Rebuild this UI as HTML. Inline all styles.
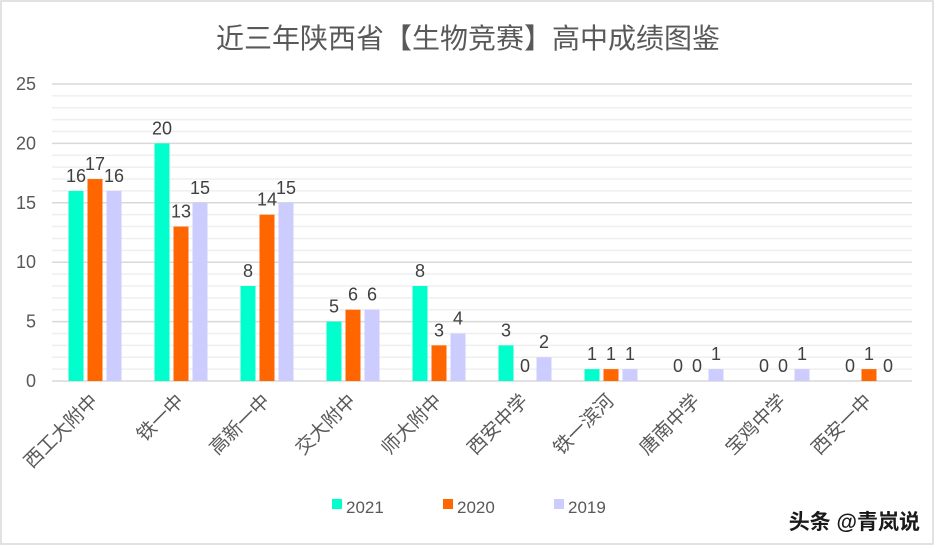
<!DOCTYPE html>
<html><head><meta charset="utf-8"><style>
body{margin:0;background:#fff;}
svg{display:block;font-family:"Liberation Sans","Noto Sans CJK SC",sans-serif;}
</style></head><body>
<svg width="937" height="548">
<rect x="1" y="1" width="932" height="543" fill="#fff" stroke="#d9d9d9" stroke-width="1.5"/>
<text x="468" y="48" text-anchor="middle" font-size="28" fill="#595959">近三年陕西省【生物竞赛】高中成绩图鉴</text>
<g id="grid"></g><g id="yaxis"></g><g id="bars"></g><g id="xlabels"></g>
<g>
<rect x="332" y="499" width="10" height="10" fill="#00ffcc"/>
<text x="346" y="513" font-size="17" fill="#595959">2021</text>
<rect x="443" y="499" width="10" height="10" fill="#ff6600"/>
<text x="457" y="513" font-size="17" fill="#595959">2020</text>
<rect x="554" y="499" width="10" height="10" fill="#ccccff"/>
<text x="568" y="513" font-size="17" fill="#595959">2019</text>
</g>
<text x="920" y="529" text-anchor="end" font-size="21" font-weight="bold" fill="#1a1a1a">头条 @青岚说</text>
</svg>
<script>
const categories=["西工大附中","铁一中","高新一中","交大附中","师大附中","西安中学","铁一滨河","唐南中学","宝鸡中学","西安一中"];
const s2021=[16,20,8,5,8,3,1,0,0,0];
const s2020=[17,13,14,6,3,0,1,0,0,1];
const s2019=[16,15,15,6,4,2,1,1,1,0];
const yTicks=[0,5,10,15,20,25];
const NS="http://www.w3.org/2000/svg";
const left=52,right=912,y0=381,ytop=84,ymax=25;
const catW=(right-left)/categories.length;
function yS(v){return y0-(v/ymax)*(y0-ytop);}
function xC(i){return left+catW*(i+0.5);}
function mk(tag,attrs,parent,txt){const e=document.createElementNS(NS,tag);for(const k in attrs)e.setAttribute(k,attrs[k]);if(txt!==undefined)e.textContent=txt;document.getElementById(parent).appendChild(e);return e;}
for(let v=0;v<=ymax;v++){
 if(v%5===0)continue;
 const l=mk('line',{x1:left,x2:right,y1:yS(v),y2:yS(v),stroke:'#efefef','stroke-width':1.5},'grid');
 
 
}
yTicks.forEach(v=>{
 const l=mk('line',{x1:left,x2:right,y1:yS(v),y2:yS(v),stroke:'#d9d9d9','stroke-width':1.5},'grid');
 
 
 const t=mk('text',{x:36,y:yS(v)+6,'text-anchor':'end','font-size':18,fill:'#595959'},'yaxis',String(v));
 
 
});
const series=[[s2021,'#00ffcc','2021'],[s2020,'#ff6600','2020'],[s2019,'#ccccff','2019']];
const bw=15,step=19;
categories.forEach((c,i)=>{
 series.forEach((s,j)=>{
  const v=s[0][i];const x=xC(i)+(j-1)*step-bw/2;
  const r=mk('rect',{x:x,y:yS(v),width:bw,height:y0-yS(v),fill:s[1]},'bars');
  
  
  const t=mk('text',{x:x+bw/2,y:yS(v)-9,'text-anchor':'middle','font-size':18,fill:'#404040'},'bars',String(v));
  
  
 });
 const lx=xC(i)+4,ly=402;
 const t=mk('text',{x:lx,y:ly,'text-anchor':'end','font-size':19,fill:'#595959',transform:`rotate(-45 ${lx} ${ly})`},'xlabels',c);
 
 
});
</script>
</body></html>
